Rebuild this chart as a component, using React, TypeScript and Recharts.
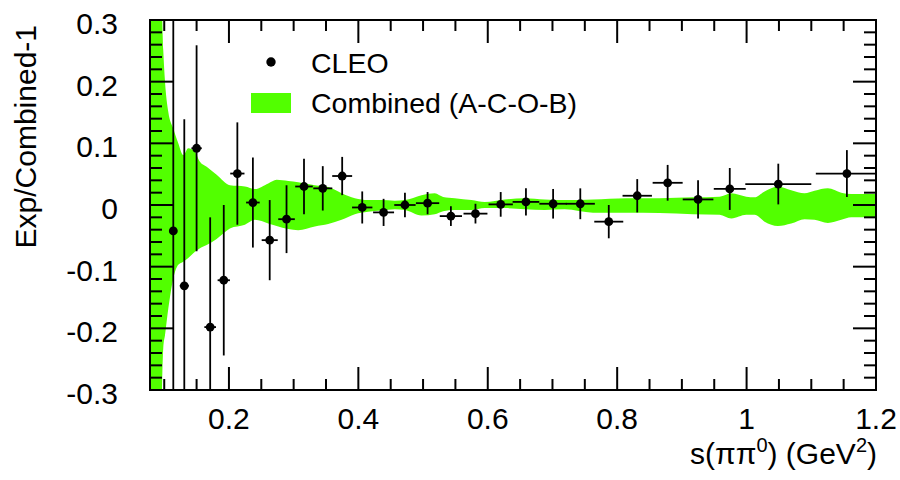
import React from "react";
import { ComposedChart, Area, Scatter, ErrorBar, XAxis, YAxis, ReferenceArea } from "recharts";

/* ── layout ─────────────────────────────────────────────────────────────── */

const FONT = '"Liberation Sans", Arial, Helvetica, sans-serif';
const GREEN = "#52ff00";
const W = 900;
const H = 480;
const PLOT_LEFT = 150;
const PLOT_RIGHT = 876;
const PLOT_TOP = 20;
const PLOT_BOTTOM = 390;

/* ── axes ───────────────────────────────────────────────────────────────── */

const X_DOMAIN = [0.078, 1.2];
const Y_DOMAIN = [-0.3, 0.3];
const X_MAJOR = [0.2, 0.4, 0.6, 0.8, 1, 1.2];
const X_LABELS = ["0.2", "0.4", "0.6", "0.8", "1", "1.2"];
const Y_MAJOR = [-0.3, -0.2, -0.1, 0, 0.1, 0.2, 0.3];
const Y_LABELS = ["-0.3", "-0.2", "-0.1", "0", "0.1", "0.2", "0.3"];

// minor ticks: every 0.05 on x, every 0.02 on y
const xTicks = Array.from({ length: 23 }, (_, i) => +(0.1 + i * 0.05).toFixed(2));
const yTicks = Array.from({ length: 31 }, (_, i) => +(-0.3 + i * 0.02).toFixed(2));

/* ── combined band (A-C-O-B) ───────────────────────────────────────────── */

const bandX = [
  0.078, 0.0934, 0.0985, 0.1012, 0.1063, 0.114, 0.1217, 0.1294, 0.1371, 0.1475,
  0.1552, 0.1656, 0.181, 0.2015, 0.2247, 0.2402, 0.2607, 0.2737, 0.2916, 0.307,
  0.3328, 0.3534, 0.3741, 0.3946, 0.4151, 0.4358, 0.4564, 0.4718, 0.4976, 0.5181,
  0.531, 0.549, 0.5748, 0.5954, 0.6262, 0.6571, 0.688, 0.7189, 0.7626, 0.8142,
  0.8656, 0.9171, 0.9583, 0.9764, 0.9995, 1.0124, 1.0278, 1.0484, 1.069, 1.0896,
  1.105, 1.1256, 1.1463, 1.1617, 1.2,
];
const bandHi = [
  0.4, 0.4, 0.251, 0.2, 0.151, 0.124, 0.1, 0.081, 0.092, 0.086,
  0.07, 0.062, 0.049, 0.032, 0.03, 0.026, 0.035, 0.041, 0.039, 0.037,
  0.032, 0.029, 0.019, 0.011, 0.008, 0.008, 0.007, 0.008, 0.016, 0.019,
  0.013, 0.011, 0.008, 0.005, 0.009, 0.011, 0.009, 0.008, 0.009, 0.011,
  0.011, 0.0125, 0.0135, 0.019, 0.0135, 0.0125, 0.022, 0.03, 0.024, 0.019,
  0.023, 0.027, 0.02, 0.018, 0.018,
];
const bandLo = [
  -0.4, -0.4, -0.232, -0.211, -0.168, -0.119, -0.097, -0.092, -0.086, -0.076,
  -0.07, -0.065, -0.055, -0.038, -0.032, -0.024, -0.03, -0.034, -0.039, -0.041,
  -0.035, -0.031, -0.024, -0.015, -0.011, -0.009, -0.007, -0.008, -0.017, -0.015,
  -0.01, -0.008, -0.008, -0.005, -0.005, -0.007, -0.008, -0.007, -0.0125, -0.0125,
  -0.013, -0.015, -0.016, -0.022, -0.016, -0.016, -0.027, -0.034, -0.03, -0.023,
  -0.024, -0.029, -0.024, -0.02, -0.02,
];

/* ── CLEO points ───────────────────────────────────────────────────────── */

const cleoX = [
  0.114, 0.131, 0.15, 0.171, 0.192, 0.213, 0.237, 0.263, 0.289, 0.316,
  0.345, 0.375, 0.406, 0.439, 0.472, 0.507, 0.543, 0.581, 0.62, 0.659,
  0.701, 0.743, 0.787, 0.831, 0.878, 0.925, 0.974, 1.049, 1.155,
];
const cleoY = [
  -0.042, -0.131, 0.092, -0.198, -0.122, 0.051, 0.004, -0.057, -0.023, 0.03,
  0.027, 0.047, -0.004, -0.012, 0.0, 0.003, -0.018, -0.014, 0.001, 0.005,
  0.002, 0.002, -0.027, 0.015, 0.036, 0.009, 0.026, 0.034, 0.051,
];
const cleoEy = [
  0.38, 0.27, 0.167, 0.178, 0.122, 0.083, 0.073, 0.065, 0.055, 0.045,
  0.036, 0.031, 0.026, 0.022, 0.02, 0.018, 0.016, 0.016, 0.02, 0.022,
  0.024, 0.025, 0.027, 0.027, 0.029, 0.031, 0.034, 0.033, 0.038,
];
const cleoEx = [
  0.006, 0.007, 0.008, 0.009, 0.0095, 0.011, 0.0105, 0.0124, 0.0128, 0.0136,
  0.0147, 0.0154, 0.0157, 0.0162, 0.0165, 0.018, 0.0172, 0.0185, 0.0188, 0.0206,
  0.0213, 0.0225, 0.0224, 0.0227, 0.0232, 0.0237, 0.0247, 0.051, 0.048,
];

const bandData = bandX.map((x, i) => ({ x, band: [bandLo[i], bandHi[i]] }));
const cleoData = cleoX.map((x, i) => ({ x, y: cleoY[i], ex: cleoEx[i], ey: cleoEy[i] }));

/* ── helpers ───────────────────────────────────────────────────────────── */

const majorIndex = (list: number[], v: number) => list.findIndex((m) => Math.abs(m - v) < 1e-6);

function XTick({ x, payload }: any) {
  const i = majorIndex(X_MAJOR, payload.value);
  const len = i >= 0 ? 23 : 11;
  return (
    <g>
      <line x1={x} x2={x} y1={PLOT_BOTTOM} y2={PLOT_BOTTOM - len} stroke="#000" strokeWidth={2} />
      <line x1={x} x2={x} y1={PLOT_TOP} y2={PLOT_TOP + len} stroke="#000" strokeWidth={2} />
      {i >= 0 && (
        <text x={x} y={429} textAnchor="middle" fontSize={30} fontFamily={FONT} fill="#000">
          {X_LABELS[i]}
        </text>
      )}
    </g>
  );
}

function YTick({ y, payload }: any) {
  const i = majorIndex(Y_MAJOR, payload.value);
  const len = i >= 0 ? 23 : 12;
  return (
    <g>
      <line x1={PLOT_LEFT} x2={PLOT_LEFT + len} y1={y} y2={y} stroke="#000" strokeWidth={2} />
      <line x1={PLOT_RIGHT} x2={PLOT_RIGHT - len} y1={y} y2={y} stroke="#000" strokeWidth={2} />
      {i >= 0 && (
        <text x={118} y={y + 14} textAnchor="end" fontSize={30} fontFamily={FONT} fill="#000">
          {Y_LABELS[i]}
        </text>
      )}
    </g>
  );
}

const Dot = ({ cx, cy }: any) => <circle cx={cx} cy={cy} r={4.4} fill="#000" />;

// error bars are not clipped by recharts, so clip them to the frame
const css = `body{margin:0}
.recharts-errorBar,.recharts-errorBars{clip-path:url(#plot-frame)}`;

/* ── chart ─────────────────────────────────────────────────────────────── */

export default function App() {
  return (
    <div style={{ position: "relative", width: W, height: H, background: "#fff" }}>
      <style>{css}</style>
      <ComposedChart
        width={W}
        height={H}
        margin={{ top: PLOT_TOP, right: W - PLOT_RIGHT, bottom: 0, left: 0 }}
      >
        <Area
          data={bandData}
          dataKey="band"
          type="monotone"
          stroke="none"
          fill={GREEN}
          fillOpacity={1}
          isAnimationActive={false}
        />
        <Scatter data={cleoData} dataKey="y" shape={Dot} isAnimationActive={false}>
          <ErrorBar dataKey="ey" direction="y" width={0} stroke="#000" strokeWidth={1.8} />
          <ErrorBar dataKey="ex" direction="x" width={0} stroke="#000" strokeWidth={1.8} />
        </Scatter>
        <ReferenceArea
          x1={X_DOMAIN[0]}
          x2={X_DOMAIN[1]}
          y1={Y_DOMAIN[0]}
          y2={Y_DOMAIN[1]}
          fill="none"
          stroke="#000"
          strokeWidth={2}
        />
        <XAxis
          dataKey="x"
          type="number"
          domain={X_DOMAIN}
          allowDataOverflow
          ticks={xTicks}
          interval={0}
          tick={XTick}
          tickLine={false}
          axisLine={false}
          height={H - PLOT_BOTTOM}
        />
        <YAxis
          type="number"
          domain={Y_DOMAIN}
          allowDataOverflow
          ticks={yTicks}
          interval={0}
          tick={YTick}
          tickLine={false}
          axisLine={false}
          width={PLOT_LEFT}
        />
      </ComposedChart>

      {/* legend and axis titles */}
      <svg
        width={W}
        height={H}
        style={{ position: "absolute", left: 0, top: 0, pointerEvents: "none" }}
        fontFamily={FONT}
      >
        <defs>
          <clipPath id="plot-frame" clipPathUnits="userSpaceOnUse">
            <rect x={PLOT_LEFT} y={PLOT_TOP} width={PLOT_RIGHT - PLOT_LEFT} height={PLOT_BOTTOM - PLOT_TOP} />
          </clipPath>
        </defs>
        <circle cx={271} cy={62} r={4.7} fill="#000" />
        <text x={311} y={72.5} fontSize={28.5} fill="#000">CLEO</text>
        <rect x={251} y={93} width={40} height={20} fill={GREEN} />
        <text x={311} y={112.5} fontSize={28.5} fill="#000">Combined (A-C-O-B)</text>

        <text x={877} y={464} textAnchor="end" fontSize={30} fill="#000">
          s(ππ<tspan dy={-12} fontSize={20}>0</tspan>
          <tspan dy={12}>) (GeV</tspan>
          <tspan dy={-12} fontSize={20}>2</tspan>
          <tspan dy={12}>)</tspan>
        </text>
        <text transform="translate(36,25) rotate(-90)" textAnchor="end" fontSize={30} fill="#000">
          Exp/Combined-1
        </text>
      </svg>
    </div>
  );
}
